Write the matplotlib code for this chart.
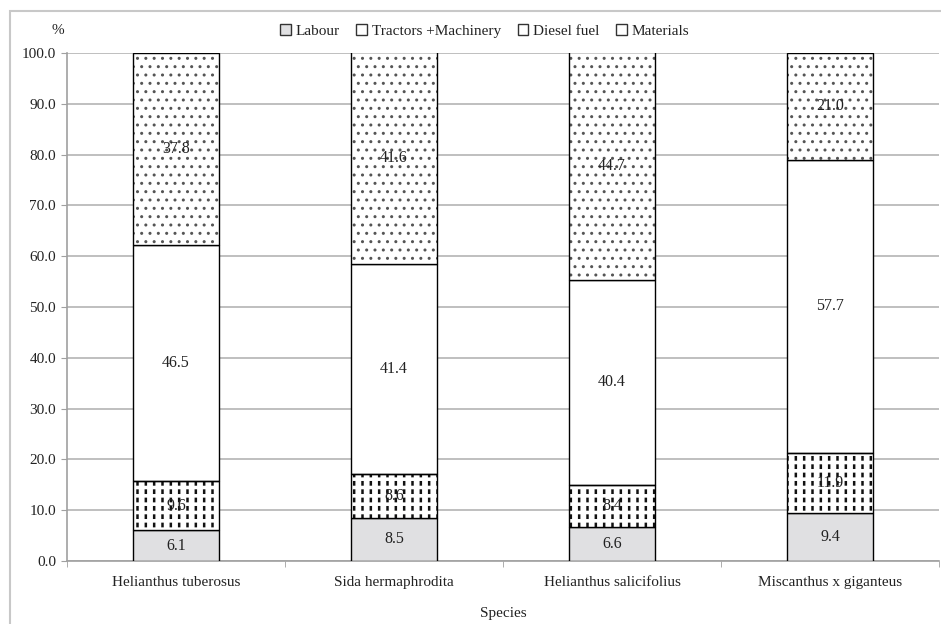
import matplotlib.pyplot as plt
import matplotlib.patches as mpatches
import numpy as np

species = ['Helianthus tuberosus', 'Sida hermaphrodita', 'Helianthus salicifolius', 'Miscanthus x giganteus']
labour = [6.1, 8.5, 6.6, 9.4]
tractors = [9.6, 8.6, 8.4, 11.9]
diesel = [46.5, 41.4, 40.4, 57.7]
materials = [37.8, 41.6, 44.7, 21.0]

plt.rcParams['font.family'] = ['Liberation Serif', 'DejaVu Serif']
plt.rcParams['font.size'] = 11
plt.rcParams['hatch.linewidth'] = 1.6


def hatch_lw(bars, lw):
    for p in bars:
        if hasattr(p, 'set_hatch_linewidth'):
            p.set_hatch_linewidth(lw)


fig = plt.figure(figsize=(9.41, 6.24), dpi=100)
ax = fig.add_axes([67/941, 63/624, 872/941, 508/624])

# light frame around the chart area
fig.patches.append(mpatches.Rectangle((10/941, -0.1), 1.2, 1 - 11/624 + 0.1, transform=fig.transFigure,
                                      fill=False, edgecolor='#c8c8c8', linewidth=1.5))

x = np.arange(len(species))
w = 0.395
b1 = np.array(labour)
b2 = b1 + np.array(tractors)
b3 = b2 + np.array(diesel)

ax.bar(x, labour, w, color='#e0e0e2', edgecolor='black', linewidth=1, zorder=3)
# tractors: vertical lines broken up by white horizontal lines -> short dashes
hatch_lw(ax.bar(x, tractors, w, bottom=b1, color='white', edgecolor='#111111', hatch='||',
                linewidth=0, zorder=3), 1.8)
hatch_lw(ax.bar(x, tractors, w, bottom=b1, color='none', edgecolor='white', hatch='--',
                linewidth=0, zorder=3), 2.6)
ax.bar(x, tractors, w, bottom=b1, color='none', edgecolor='black', linewidth=1, zorder=4)
ax.bar(x, diesel, w, bottom=b2, color='white', edgecolor='black', linewidth=1, zorder=3)
hatch_lw(ax.bar(x, materials, w, bottom=b3, color='white', edgecolor='#555555', hatch='..',
                linewidth=0, zorder=3), 1.0)
ax.bar(x, materials, w, bottom=b3, color='none', edgecolor='black', linewidth=1, zorder=4)

for vals, bots in [(labour, np.zeros(4)), (tractors, b1), (diesel, b2), (materials, b3)]:
    for i in range(4):
        ax.text(x[i], bots[i] + vals[i] / 2, '%.1f' % vals[i], ha='center', va='center',
                color='#222222', fontsize=11.5, zorder=5)

ax.set_xlim(-0.5, 3.5)
ax.set_ylim(0, 100)
ax.set_yticks(np.arange(0, 101, 10))
ax.set_yticklabels(['%.1f' % v for v in np.arange(0, 101, 10)])
ax.set_xticks(x)
ax.set_xticklabels(species)
ax.set_xticks(np.arange(-0.5, 4, 1), minor=True)
ax.tick_params(axis='x', which='major', length=0, pad=11, colors='#222222')
ax.tick_params(axis='x', which='minor', length=4, color='#a0a0a0')
ax.tick_params(axis='y', length=4, color='#a0a0a0', labelcolor='#222222', pad=4)
ax.yaxis.grid(True, color='#b4b4b4', linewidth=1.2, zorder=0)
ax.set_axisbelow(True)
for s in ['top', 'right']:
    ax.spines[s].set_visible(False)
for s in ['left', 'bottom']:
    ax.spines[s].set_color('#a0a0a0')
    ax.spines[s].set_linewidth(1.2)

ax.set_xlabel('Species', color='#222222', labelpad=13)
fig.text(58/941, 1 - 30/624, '%', ha='center', va='center', color='#222222')

handles = [
    mpatches.Patch(facecolor='#e0e0e2', edgecolor='#333333', label='Labour'),
    mpatches.Patch(facecolor='white', edgecolor='#333333', label='Tractors +Machinery'),
    mpatches.Patch(facecolor='white', edgecolor='#333333', label='Diesel fuel'),
    mpatches.Patch(facecolor='white', edgecolor='#333333', label='Materials'),
]
fig.legend(handles=handles, loc='center', bbox_to_anchor=(0.515, 1 - 31/624), ncol=4, frameon=False,
           handlelength=0.7, handleheight=0.7, handletextpad=0.3, columnspacing=1.1, fontsize=11,
           labelcolor='#222222')

fig.savefig('out.png', dpi=100)
